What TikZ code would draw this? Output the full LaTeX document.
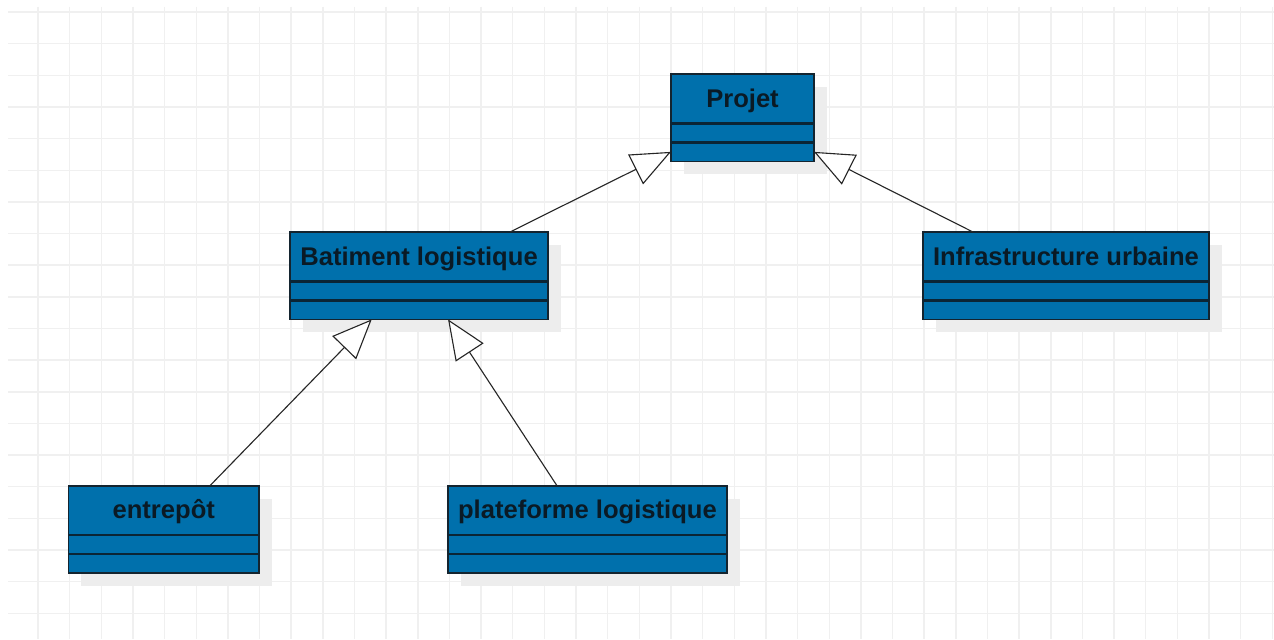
\documentclass[tikz,border=0pt]{standalone}
\usepackage{fontspec}
\setmainfont{Liberation Sans}
\usetikzlibrary{arrows.meta,positioning,calc,backgrounds}
\definecolor{cClass}{HTML}{0070AC}
\definecolor{cEdge}{HTML}{14242F}
\definecolor{cSep}{HTML}{0B2535}
\definecolor{cInk}{HTML}{0A1A25}
\definecolor{cLink}{HTML}{262626}
\definecolor{cGrid}{HTML}{F0F0F0}
\definecolor{cShade}{HTML}{EDEDED}

\begin{document}
\begin{tikzpicture}[
  font=\fontsize{23}{27}\selectfont\bfseries,
  cls/.style={draw=cEdge,fill=cClass,line width=1.3pt,text=cInk,inner sep=0pt,outer sep=0pt,
              minimum height=1.56cm,text height=19pt,text depth=4pt},
  cmp/.style={draw=cEdge,fill=cClass,line width=1.3pt,inner sep=0pt,outer sep=0pt,
              minimum height=0.6cm},
  sepln/.style={line width=2.2pt,color=cSep},
  gen/.style={-{Triangle[length=1.25cm,width=1.05cm,fill=white,line width=1pt]},
              line width=1pt,color=cLink},
  gridln/.style={line width=1.3pt,color=cGrid},
  shade/.style={fill=cShade},
]
\useasboundingbox (0,0) rectangle (40.253,-20.19);

% ====================================================== grid paper
\begin{scope}[on background layer]
  \fill[white] (0,0) rectangle (40.253,-20.19);
  \foreach \i in {1,...,40}
    \draw[gridln] (\i+0.2,-0.22) -- (\i+0.2,-20.19);
  \foreach \j in {0,...,19}
    \draw[gridln] (0.253,-\j-0.379) -- (40.253,-\j-0.379);
\end{scope}

% ====================================================== classes
% -- top
\node[cls,minimum width=4.52cm,anchor=north] (proj) at (23.46,-2.338) {Projet};
\node[cmp,minimum width=4.52cm,below=0pt of proj] (projAtt) {};
\node[cmp,minimum width=4.52cm,below=0pt of projAtt] (projOp) {};

% -- middle
\node[cls,minimum width=8.15cm,anchor=north] (bat) at (13.24,-7.33) {Batiment logistique};
\node[cmp,minimum width=8.15cm,below=0pt of bat] (batAtt) {};
\node[cmp,minimum width=8.15cm,below=0pt of batAtt] (batOp) {};

\node[cls,minimum width=9.04cm,anchor=north] (infra) at (33.68,-7.33) {Infrastructure urbaine};
\node[cmp,minimum width=9.04cm,below=0pt of infra] (infraAtt) {};
\node[cmp,minimum width=9.04cm,below=0pt of infraAtt] (infraOp) {};

% -- bottom
\node[cls,minimum width=6.03cm,anchor=north] (entr) at (5.175,-15.35) {entrepôt};
\node[cmp,minimum width=6.03cm,below=0pt of entr] (entrAtt) {};
\node[cmp,minimum width=6.03cm,below=0pt of entrAtt] (entrOp) {};

\node[cls,minimum width=8.82cm,anchor=north] (plat) at (18.56,-15.35) {plateforme logistique};
\node[cmp,minimum width=8.82cm,below=0pt of plat] (platAtt) {};
\node[cmp,minimum width=8.82cm,below=0pt of platAtt] (platOp) {};

% compartment separators + shadows
\foreach \c in {proj,bat,infra,entr,plat} {
  \draw[sepln] (\c Att.north west) -- (\c Att.north east);
  \draw[sepln] (\c Op.north west) -- (\c Op.north east);
}
\begin{scope}[on background layer]
  \foreach \c in {proj,bat,infra,entr,plat}
    \fill[shade] ($(\c.north west)+(0.41,-0.41)$) rectangle ($(\c Op.south east)+(0.41,-0.41)$);
\end{scope}

% ====================================================== generalisations
\draw[gen] ($(bat.north)+(2.875,0)$) -- (projOp.west);
\draw[gen] ($(infra.north)+(-2.94,0)$) -- (projOp.east);
\draw[gen] ($(entr.north)+(1.455,0)$) -- ($(batOp.south)+(-1.495,0)$);
\draw[gen] ($(plat.north)+(-0.96,0)$) -- ($(batOp.south)+(0.916,0)$);

\end{tikzpicture}
\end{document}
